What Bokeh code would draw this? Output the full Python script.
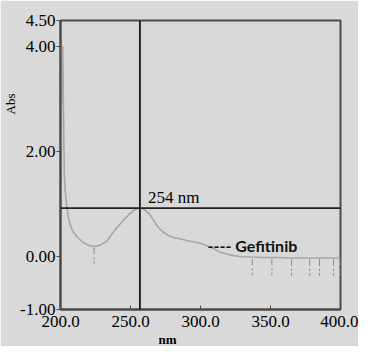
import math
from bokeh.plotting import figure
from bokeh.models import Span, Label, FixedTicker, PrintfTickFormatter, Range1d, Title
from bokeh.embed import file_html
from bokeh.resources import INLINE

# ---- data ----
wavelength_nm = [200.6, 200.8, 201.6, 202.2, 202.7, 203.4, 204.3, 205.5, 207.0, 209.0, 212.0,
                 216.0, 220.0, 224.0, 228.0, 233.0, 239.0, 245.0, 249.0, 253.0, 256.7,
                 260.0, 263.0, 266.0, 269.0, 273.0, 277.0, 281.0, 286.0, 291.0, 296.0,
                 301.0, 305.0, 310.0, 314.0, 318.0, 323.0, 328.0, 336.0, 345.0, 355.0,
                 365.0, 375.0, 385.0, 395.0, 400.0]
absorbance = [2.0, 4.0, 4.0, 2.6, 1.6, 1.25, 1.0, 0.78, 0.6, 0.48, 0.38,
              0.28, 0.22, 0.20, 0.22, 0.30, 0.52, 0.70, 0.81, 0.90, 0.93,
              0.90, 0.83, 0.72, 0.59, 0.48, 0.41, 0.37, 0.34, 0.31, 0.28,
              0.25, 0.21, 0.15, 0.09, 0.06, 0.03, 0.01, 0.0, -0.01, -0.01,
              -0.02, -0.02, -0.02, -0.02, -0.02]

marker_nm = [224.0, 337.0, 351.0, 365.0, 378.0, 385.0, 395.0, 400.0]
marker_abs = [0.20, -0.01, -0.01, -0.02, -0.02, -0.02, -0.02, -0.02]

peak_nm = 256.7          # position of the vertical cursor
peak_abs = 0.93          # position of the horizontal cursor
peak_label = "254 nm"
series_name = "---- Gefitinib"
legend_nm = 305.0
legend_abs = 0.22

x_ticks = [200, 250, 300, 350, 400]
y_ticks = [-1.0, 0.0, 2.0, 4.0, 4.5]
x_title = "nm"
y_title = "Abs"

x_min, x_max = 200, 400
y_min, y_max = -1.0, 4.5

BG = "#d9d9d9"
AX = "#4a4a4a"
SERIF = "Liberation Serif"

p = figure(width=358, height=346, x_range=Range1d(x_min, x_max), y_range=Range1d(y_min, y_max),
           output_backend="svg", toolbar_location=None,
           min_border_left=49, min_border_right=18, min_border_top=20, min_border_bottom=34)
p.background_fill_color = BG
p.border_fill_color = BG
p.outline_line_color = AX
p.outline_line_width = 2
p.grid.visible = False

# bottom axis
p.xaxis.ticker = FixedTicker(ticks=x_ticks)
p.xaxis.formatter = PrintfTickFormatter(format="%.1f")
p.xaxis.major_tick_in = 4
p.xaxis.major_tick_out = 0
p.xaxis.minor_tick_line_color = None
p.xaxis.axis_line_color = AX
p.xaxis.axis_line_width = 2
p.xaxis.major_tick_line_color = AX
p.xaxis.major_label_standoff = 6
p.xaxis.major_label_text_font = SERIF
p.xaxis.major_label_text_font_size = "17px"
p.xaxis.major_label_text_color = "black"

# left axis
p.yaxis.ticker = FixedTicker(ticks=y_ticks)
p.yaxis.formatter = PrintfTickFormatter(format="%.2f")
p.yaxis.major_tick_in = 0
p.yaxis.major_tick_out = 4
p.yaxis.minor_tick_line_color = None
p.yaxis.axis_line_color = AX
p.yaxis.axis_line_width = 2
p.yaxis.major_tick_line_color = AX
p.yaxis.major_label_standoff = 1
p.yaxis.major_label_text_font = SERIF
p.yaxis.major_label_text_font_size = "17px"
p.yaxis.major_label_text_color = "black"

# axis titles
p.add_layout(Title(text=y_title, align="right", offset=73, standoff=0, vertical_align="bottom",
                   text_font=SERIF, text_font_size="13px", text_font_style="normal",
                   text_line_height=0.8, text_color="black"), "left")
p.add_layout(Title(text=x_title, align="left", offset=98, standoff=0,
                   text_font=SERIF, text_font_size="13px", text_font_style="bold",
                   text_color="black"), "below")

# spectrum
p.line(wavelength_nm, absorbance, line_color="#a6a6a6", line_width=1.6)

# peak-pick markers
p.segment(x0=marker_nm, y0=[v - 0.02 for v in marker_abs], x1=marker_nm,
          y1=[v - 0.34 for v in marker_abs], line_color="#8c8c8c", line_width=1,
          line_dash="7 3 2 2")

# cursor lines
p.add_layout(Span(location=peak_nm, dimension="height", line_color="black", line_width=1.6))
p.add_layout(Span(location=peak_abs, dimension="width", line_color="#222222", line_width=1.6))

# labels
p.add_layout(Label(x=peak_nm, y=peak_abs, text=peak_label, x_offset=8, y_offset=1,
                   text_font=SERIF, text_font_size="17px", text_color="black",
                   text_baseline="bottom"))
p.add_layout(Label(x=legend_nm, y=legend_abs, text=series_name,
                   text_font="Lato", text_font_style="bold", text_font_size="16px",
                   text_color="#111111", text_baseline="middle"))

open("out.html", "w").write(file_html(p, INLINE))
